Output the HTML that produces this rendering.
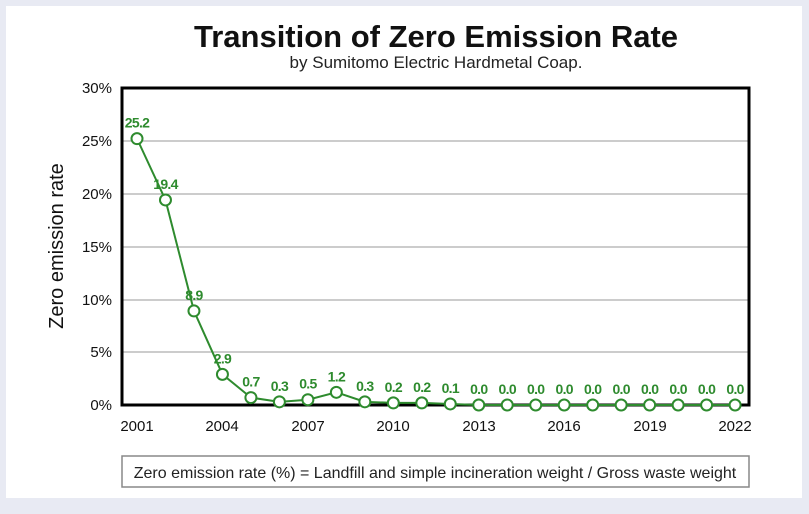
<!DOCTYPE html><html><head><style>
body{margin:0;background:#e8eaf3;}
</style></head><body>
<svg width="809" height="509" xmlns="http://www.w3.org/2000/svg" font-family="Liberation Sans, sans-serif">
<rect x="0" y="0" width="809" height="509" fill="#e8eaf3"/>
<rect x="6" y="6" width="796" height="492" fill="#fff"/>
<text x="436" y="47" text-anchor="middle" font-size="31" font-weight="bold" fill="#111">Transition of Zero Emission Rate</text>
<text x="436" y="68" text-anchor="middle" font-size="17" fill="#222">by Sumitomo Electric Hardmetal Coap.</text>
<g stroke="#999" stroke-width="1">
<line x1="122" y1="141" x2="749" y2="141"/><line x1="122" y1="194" x2="749" y2="194"/>
<line x1="122" y1="247" x2="749" y2="247"/><line x1="122" y1="300" x2="749" y2="300"/>
<line x1="122" y1="352" x2="749" y2="352"/>
</g>
<rect x="122" y="88" width="627" height="317" fill="none" stroke="#000" stroke-width="3"/>
<g font-size="15" fill="#111" text-anchor="end">
<text x="112" y="93">30%</text><text x="112" y="146">25%</text><text x="112" y="199">20%</text>
<text x="112" y="252">15%</text><text x="112" y="305">10%</text><text x="112" y="357">5%</text><text x="112" y="410">0%</text>
</g>
<g font-size="15" fill="#111" text-anchor="middle">
<text x="137" y="431">2001</text><text x="222" y="431">2004</text><text x="308" y="431">2007</text><text x="393" y="431">2010</text><text x="479" y="431">2013</text><text x="564" y="431">2016</text><text x="650" y="431">2019</text><text x="735" y="431">2022</text>
</g>
<text transform="translate(63,246) rotate(-90)" text-anchor="middle" font-size="20" fill="#111">Zero emission rate</text>
<g id="s"></g>
<rect x="122" y="456" width="627" height="31" fill="#fff" stroke="#888" stroke-width="1.5"/>
<text x="435" y="478" text-anchor="middle" font-size="16" fill="#222">Zero emission rate (%) = Landfill and simple incineration weight / Gross waste weight</text>
<script>
var v=[25.2,19.4,8.9,2.9,0.7,0.3,0.5,1.2,0.3,0.2,0.2,0.1,0,0,0,0,0,0,0,0,0,0];
var g=document.getElementById('s'),ns='http://www.w3.org/2000/svg',pts=[];
v.forEach(function(d,i){pts.push([137+i*28.48,405-d*10.57]);});
var pl=document.createElementNS(ns,'polyline');pl.setAttribute('points',pts.map(function(p){return p.join(',')}).join(' '));
pl.setAttribute('fill','none');pl.setAttribute('stroke','#2e8b2e');pl.setAttribute('stroke-width','2');g.appendChild(pl);
pts.forEach(function(p,i){var c=document.createElementNS(ns,'circle');c.setAttribute('cx',p[0]);c.setAttribute('cy',p[1]);c.setAttribute('r','5.5');
c.setAttribute('fill','#fff');c.setAttribute('stroke','#2e8b2e');c.setAttribute('stroke-width','2');g.appendChild(c);
var t=document.createElementNS(ns,'text');t.setAttribute('x',p[0]);t.setAttribute('y',p[1]-11);t.setAttribute('text-anchor','middle');
t.setAttribute('font-size','14');t.setAttribute('font-weight','bold');t.setAttribute('fill','#2e8b2e');t.setAttribute('letter-spacing','-0.7');
t.textContent=v[i].toFixed(1);g.appendChild(t);});
</script>
</svg>
</body></html>
